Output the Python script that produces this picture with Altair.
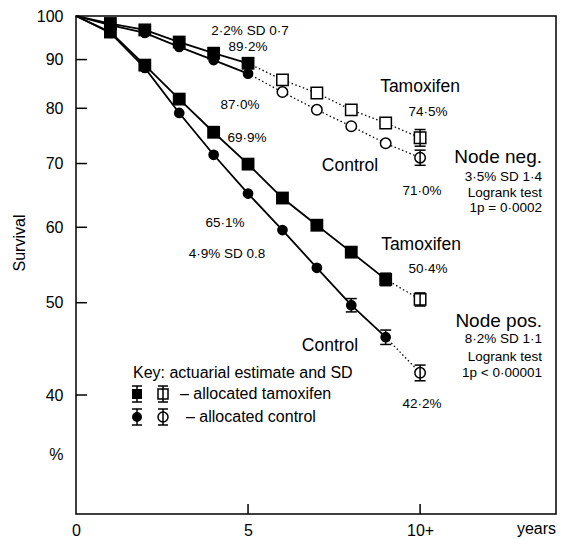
import altair as alt
import pandas as pd

FONT = "Liberation Sans"

# ---------------- data ----------------
years = [0, 1, 2, 3, 4, 5, 6, 7, 8, 9, 10]
neg_tam = [100, 98.2, 96.7, 93.9, 91.4, 89.2, 85.7, 83.0, 79.7, 77.2, 74.5]
neg_ctl = [100, 97.8, 96.0, 92.8, 89.9, 87.0, 83.2, 79.7, 76.6, 73.5, 71.0]
pos_tam = [100, 96.2, 88.8, 81.8, 75.5, 69.9, 64.4, 60.3, 56.5, 52.9, 50.4]
pos_ctl = [100, 96.0, 88.2, 79.1, 71.5, 65.1, 59.6, 54.4, 49.7, 46.0, 42.2]

series_names = ["neg_tam", "neg_ctl", "pos_tam", "pos_ctl"]
series_vals = [neg_tam, neg_ctl, pos_tam, pos_ctl]
series_arm = ["tam", "ctl", "tam", "ctl"]
series_solid_until = [5, 5, 9, 9]

# error bars (series, year, SD)
err_series = ["neg_tam", "neg_ctl", "pos_tam", "pos_tam", "pos_ctl", "pos_ctl", "pos_ctl"]
err_year = [10, 10, 10, 9, 8, 9, 10]
err_sd = [1.5, 1.3, 0.8, 0.8, 0.8, 0.8, 0.8]

y_tick_values = [40, 50, 60, 70, 80, 90]
x_tick_values = [5, 10]

# ---------------- annotations (page pixel positions) ----------------
ann_text = ["2·2% SD 0·7", "89·2%", "87·0%", "69·9%", "65·1%", "4·9% SD 0.8",
            "Tamoxifen", "74·5%", "Control", "71·0%",
            "Node neg.", "3·5% SD 1·4", "Logrank test", "1p = 0·0002",
            "Tamoxifen", "50·4%", "Control", "42·2%",
            "Node pos.", "8·2% SD 1·1", "Logrank test", "1p < 0·00001",
            "Key: actuarial estimate and SD", "– allocated tamoxifen", "– allocated control",
            "years"]
ann_px = [250, 248, 240, 247, 225, 227,
          420, 428, 350, 422,
          542, 542, 542, 542,
          421, 428, 330, 422,
          542, 542, 542, 542,
          133, 180, 186,
          556]
ann_py = [31, 47, 105, 138, 223, 254,
          87, 112, 166, 191,
          157, 177, 193, 208,
          245, 269, 346, 404,
          321, 339, 357, 373,
          373, 394, 417,
          529]
ann_size = [13.5, 13.5, 13.5, 13.5, 13.5, 13.5,
            17.5, 13.5, 17.5, 13.5,
            19, 13.5, 13.5, 13.5,
            17.5, 13.5, 17.5, 13.5,
            19, 13.5, 13.5, 13.5,
            16, 16, 16,
            16]
ann_align = ["center"] * 10 + ["right"] * 4 + ["center"] * 4 + ["right"] * 4 + ["left"] * 3 + ["right"]

# key glyphs (page pixel positions)
key_px = [137, 163, 137, 163]
key_py = [394, 394, 417, 417]
key_shape = ["square", "square", "circle", "circle"]
key_fill = ["black", "white", "black", "white"]

# ---------------- layout ----------------
OX, OY = 76, 16          # plot origin on page
W, H = 480, 498
X_MAX = 13.95

rows = []
for name, vals, arm, until in zip(series_names, series_vals, series_arm, series_solid_until):
    for yr, v in zip(years, vals):
        rows.append(dict(series=name, arm=arm, year=yr, value=v,
                         solid=yr <= until, dotted=yr >= until,
                         marker=("none" if yr == 0 else ("filled" if yr <= until else "open"))))
df = pd.DataFrame(rows)

lookup = {(r["series"], r["year"]): r["value"] for r in rows}
err_df = pd.DataFrame({
    "year": err_year,
    "lo": [lookup[(s, y)] - sd for s, y, sd in zip(err_series, err_year, err_sd)],
    "hi": [lookup[(s, y)] + sd for s, y, sd in zip(err_series, err_year, err_sd)],
})

ann_df = pd.DataFrame({"text": ann_text, "x": [p - OX for p in ann_px],
                       "y": [p - OY for p in ann_py], "size": ann_size, "align": ann_align})
key_df = pd.DataFrame({"x": [p - OX for p in key_px], "y": [p - OY for p in key_py],
                       "shape": key_shape, "fill": key_fill})
key_df["y1"] = key_df["y"] - 8
key_df["y2"] = key_df["y"] + 8

x_scale = alt.Scale(domain=[0, X_MAX], nice=False, zero=False)
y_scale = alt.Scale(type="log", domain=[30, 100], nice=False, zero=False)

x_axis = alt.Axis(values=[0, 5, 10], labelExpr="datum.value == 10 ? '10+' : datum.label",
                  format="d", domain=False, ticks=False, grid=False, labelFontSize=16,
                  labelFont=FONT, labelColor="black", labelPadding=8, labelFlush=False)
y_axis = alt.Axis(values=[34.6, 40, 50, 60, 70, 80, 90, 100],
                  labelExpr="datum.value < 35 ? '%' : datum.label",
                  format="d", domain=False, ticks=False, grid=False, labelFontSize=16,
                  labelFont=FONT, labelColor="black", labelPadding=13, labelFlush=False)

X = alt.X("year:Q", scale=x_scale, axis=x_axis, title=None)
Y = alt.Y("value:Q", scale=y_scale, axis=y_axis, title=None)

base = alt.Chart(df)

solid = base.transform_filter("datum.solid").mark_line(color="black", strokeWidth=1.8).encode(
    x=X, y=Y, detail="series:N")
dotted = base.transform_filter("datum.dotted").mark_line(
    color="black", strokeWidth=1.3, strokeDash=[1.5, 2.5]).encode(x=X, y=Y, detail="series:N")

open_sq = base.transform_filter("datum.marker == 'open' && datum.arm == 'tam'").mark_point(
    shape="square", filled=True, fill="white", stroke="black", strokeWidth=1.5, size=130, opacity=1
).encode(x=X, y=Y)
open_ci = base.transform_filter("datum.marker == 'open' && datum.arm == 'ctl'").mark_point(
    shape="circle", filled=True, fill="white", stroke="black", strokeWidth=1.5, size=110, opacity=1
).encode(x=X, y=Y)

err_rule = alt.Chart(err_df).mark_rule(color="black", strokeWidth=1.5).encode(
    x=X, y=alt.Y("lo:Q", scale=y_scale, title=None), y2="hi:Q")
err_caps = alt.Chart(err_df).transform_fold(["lo", "hi"], as_=["end", "v"]).mark_point(
    shape="M-1,0L1,0", size=121, stroke="black", strokeWidth=1.5, filled=False, opacity=1
).encode(x=X, y=alt.Y("v:Q", scale=y_scale, title=None))

filled_sq = base.transform_filter("datum.marker == 'filled' && datum.arm == 'tam'").mark_point(
    shape="square", filled=True, color="black", size=165, opacity=1).encode(x=X, y=Y)
filled_ci = base.transform_filter("datum.marker == 'filled' && datum.arm == 'ctl'").mark_point(
    shape="circle", filled=True, color="black", size=115, opacity=1).encode(x=X, y=Y)

# inward ticks
yt_df = pd.DataFrame({"v": y_tick_values})
y_ticks = alt.Chart(yt_df).mark_rule(color="black", strokeWidth=1.5).encode(
    y=alt.Y("v:Q", scale=y_scale, title=None), x=alt.value(0), x2=alt.value(11))
xt_df = pd.DataFrame({"t": x_tick_values})
x_ticks = alt.Chart(xt_df).mark_rule(color="black", strokeWidth=1.5).encode(
    x=alt.X("t:Q", scale=x_scale, title=None), y=alt.value(H), y2=alt.value(H - 10))

# key glyphs
kx = alt.X("x:Q", scale=None, axis=None)
key_open = alt.Chart(key_df[key_df["fill"] == "white"]).mark_point(
    filled=True, stroke="black", strokeWidth=1.5, size=100, opacity=1).encode(
    x=kx, y=alt.Y("y:Q", scale=None, axis=None),
    shape=alt.Shape("shape:N", scale=None, legend=None),
    fill=alt.Fill("fill:N", scale=None, legend=None))
key_rule = alt.Chart(key_df).mark_rule(color="black", strokeWidth=1.5).encode(
    x=kx, y=alt.Y("y1:Q", scale=None, axis=None), y2="y2:Q")
key_caps = alt.Chart(key_df).transform_fold(["y1", "y2"], as_=["end", "v"]).mark_point(
    shape="M-1,0L1,0", size=100, stroke="black", strokeWidth=1.5, filled=False, opacity=1).encode(
    x=kx, y=alt.Y("v:Q", scale=None, axis=None))
key_filled = alt.Chart(key_df[key_df["fill"] == "black"]).mark_point(
    filled=True, color="black", size=100, opacity=1).encode(
    x=kx, y=alt.Y("y:Q", scale=None, axis=None),
    shape=alt.Shape("shape:N", scale=None, legend=None))

texts = []
for a in ["center", "left", "right"]:
    texts.append(alt.Chart(ann_df[ann_df["align"] == a]).mark_text(
        align=a, baseline="middle", font=FONT, color="black").encode(
        x=alt.X("x:Q", scale=None, axis=None), y=alt.Y("y:Q", scale=None, axis=None),
        text="text:N", size=alt.Size("size:Q", scale=None, legend=None)))

surv = alt.Chart(pd.DataFrame({"t": ["Survival"]})).mark_text(
    angle=270, font=FONT, fontSize=16, color="black", align="center", baseline="middle").encode(
    text="t:N", x=alt.value(20 - OX), y=alt.value(243 - OY))

chart = alt.layer(
    solid, dotted, open_sq, open_ci, key_open, err_rule, err_caps, key_rule, key_caps,
    filled_sq, filled_ci, key_filled, y_ticks, x_ticks, *texts, surv
).properties(
    width=W, height=H,
    autosize=alt.AutoSizeParams(type="none"),
    padding={"left": OX - 8, "top": OY - 8, "right": 2, "bottom": 23},
    background="white",
).configure_view(stroke="black", strokeWidth=1.5)

chart.save("out.html", embed_options={"renderer": "svg", "actions": False})
